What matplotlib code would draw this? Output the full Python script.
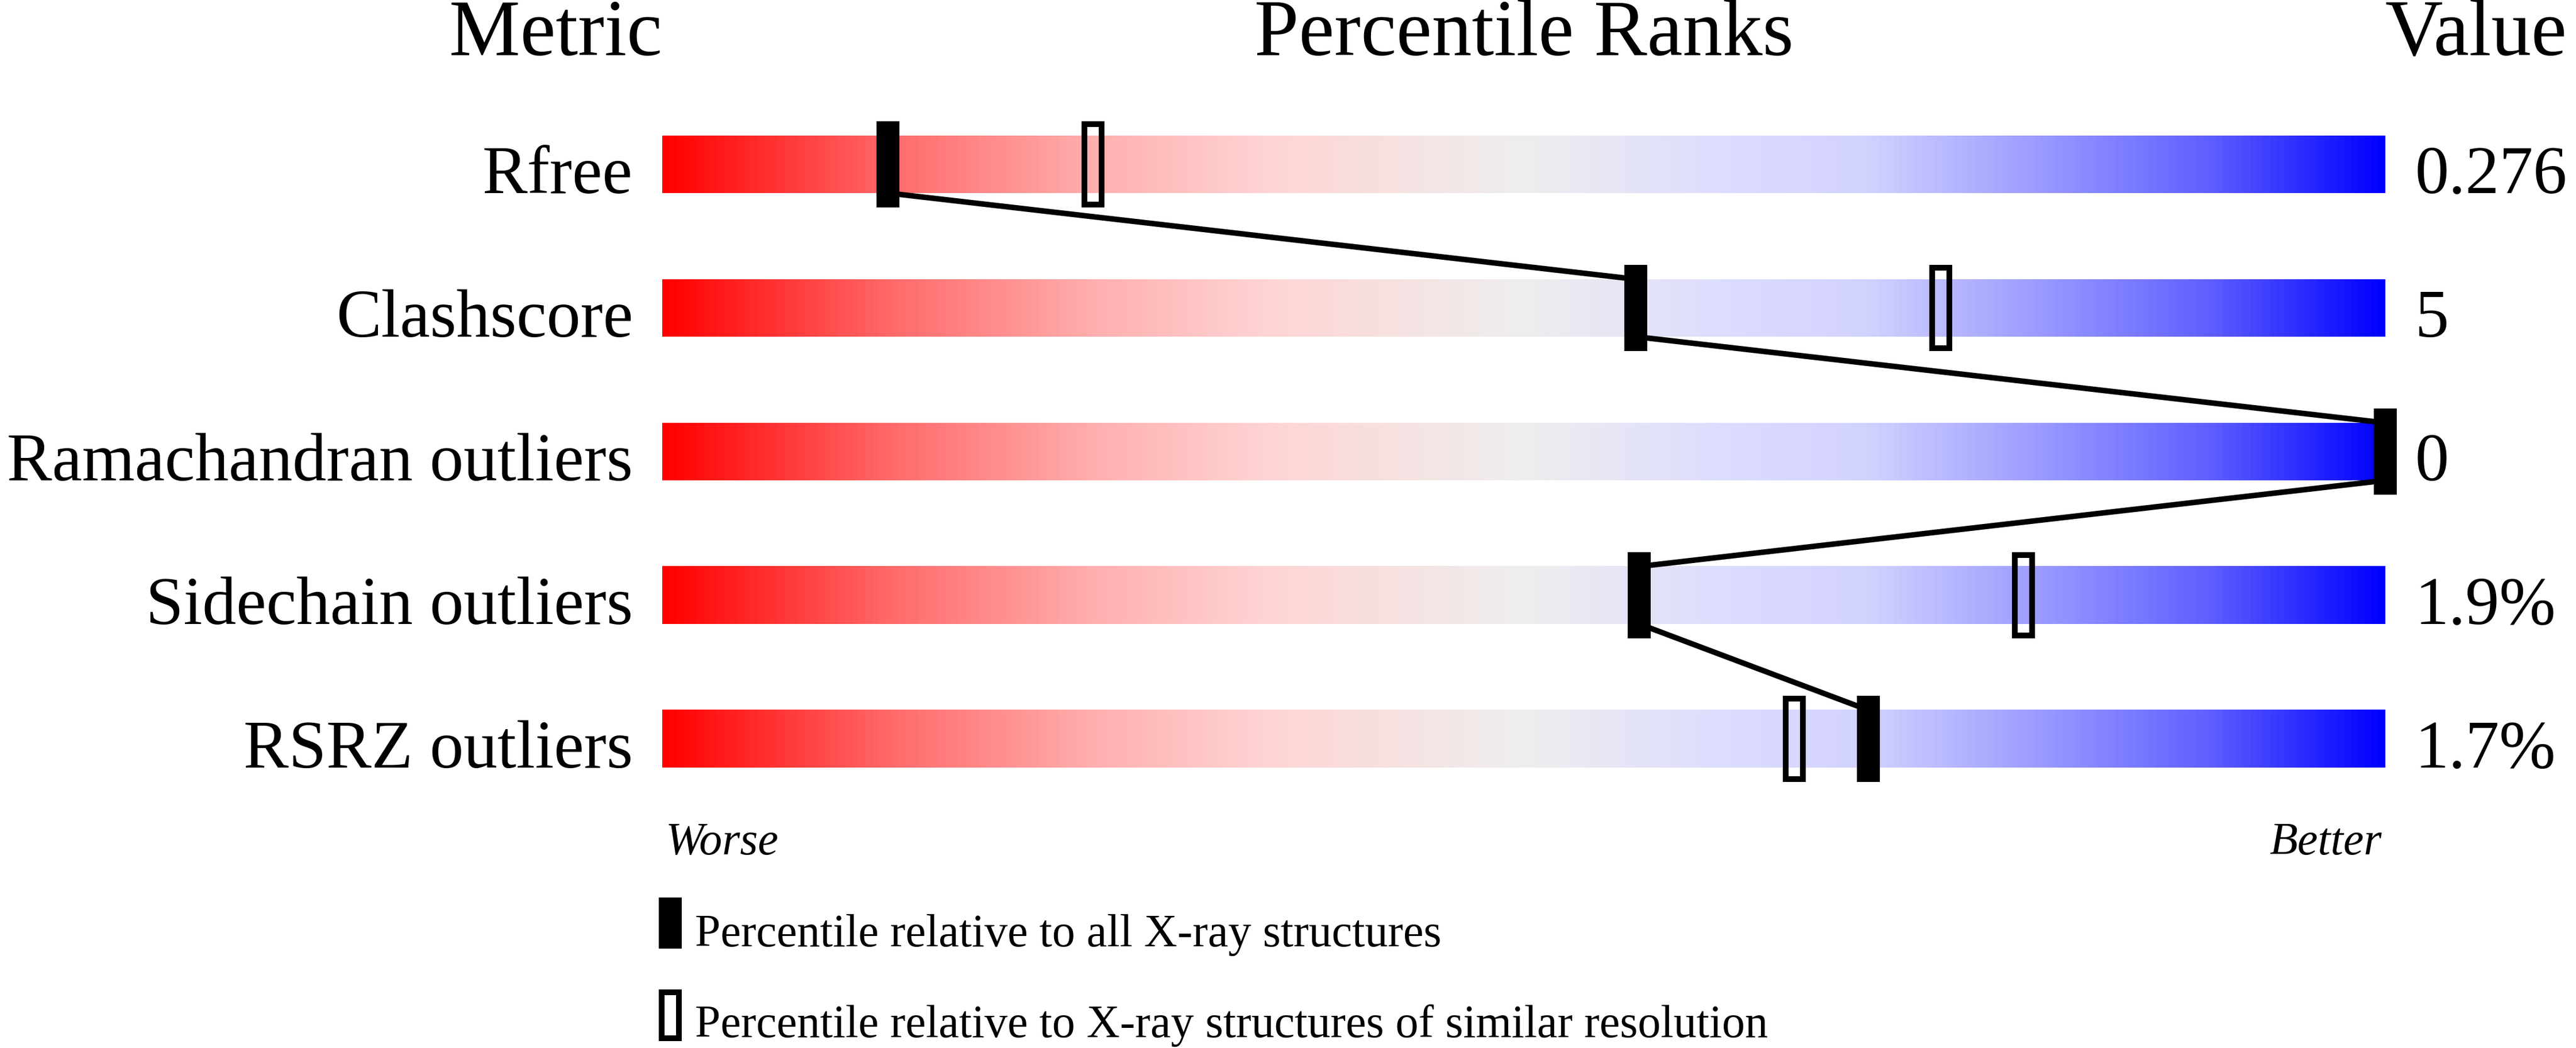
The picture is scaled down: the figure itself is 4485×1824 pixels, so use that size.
import numpy as np
import matplotlib
matplotlib.use("Agg")
import matplotlib.pyplot as plt
from matplotlib.colors import LinearSegmentedColormap
from matplotlib.patches import Rectangle

metrics = ["Rfree", "Clashscore", "Ramachandran outliers", "Sidechain outliers", "RSRZ outliers"]
values = ["0.276", "5", "0", "1.9%", "1.7%"]
pct_all = [13.1, 56.5, 100.0, 56.7, 70.0]       # relative to all X-ray structures
pct_similar = [25.0, 74.2, 100.0, 79.0, 65.7]   # relative to similar resolution

legend_all = "Percentile relative to all X-ray structures"
legend_similar = "Percentile relative to X-ray structures of similar resolution"


def main():
    plt.rcParams["font.family"] = ["Liberation Serif", "DejaVu Serif"]

    # red -> pale -> blue, as in the wwPDB slider
    stops = [
        (0.00, (255, 0, 0)),
        (0.13, (255, 105, 105)),
        (0.25, (255, 175, 175)),
        (0.35, (255, 212, 212)),
        (0.50, (238, 238, 238)),
        (0.62, (220, 220, 255)),
        (0.70, (210, 210, 255)),
        (0.80, (155, 155, 255)),
        (0.90, (95, 95, 255)),
        (1.00, (0, 0, 255)),
    ]
    cmap = LinearSegmentedColormap.from_list(
        "slider", [(s, tuple(c / 255 for c in rgb)) for s, rgb in stops])

    fig = plt.figure(figsize=(14.95, 6.08), dpi=300)
    ax = fig.add_axes([0, 0, 1, 1])
    ax.axis("off")

    n = len(metrics)
    half_bar = 0.2
    grad = np.linspace(0, 1, 800).reshape(1, -1)

    for i in range(n):
        ax.imshow(grad, cmap=cmap, extent=(0, 100, i + half_bar, i - half_bar),
                  aspect="auto", interpolation="bilinear", zorder=1)

    # connecting line between the "all structures" markers
    for i in range(n - 1):
        ax.plot([pct_all[i], pct_all[i + 1]], [i + half_bar, i + 1 - half_bar],
                color="black", lw=2.3, solid_capstyle="butt", zorder=2)

    for i in range(n):
        ax.add_patch(Rectangle((pct_similar[i] - 0.5, i - 0.28), 1.0, 0.56,
                               fill=False, edgecolor="black", lw=2.4, zorder=3))
        ax.add_patch(Rectangle((pct_all[i] - 0.667, i - 0.3), 1.333, 0.6,
                               facecolor="black", lw=0, zorder=4))
        ax.text(-1.7, i + half_bar, metrics[i], ha="right", va="baseline", fontsize=28.3)
        ax.text(101.73, i + half_bar, values[i], ha="left", va="baseline", fontsize=28.3)

    # headers
    ax.text(0, -0.76, "Metric", ha="right", va="baseline", fontsize=33.4)
    ax.text(50, -0.76, "Percentile Ranks", ha="center", va="baseline", fontsize=33.4)
    ax.text(100, -0.76, "Value", ha="left", va="baseline", fontsize=33.4)

    ax.text(0.2, 4.804, "Worse", ha="left", va="baseline", fontsize=19.2, style="italic")
    ax.text(99.8, 4.804, "Better", ha="right", va="baseline", fontsize=19.2, style="italic")

    # legend
    ax.add_patch(Rectangle((-0.2, 5.104), 1.333, 0.356, facecolor="black", lw=0))
    ax.text(1.9, 5.444, legend_all, ha="left", va="baseline", fontsize=19.2)
    ax.add_patch(Rectangle((-0.033, 5.764), 1.0, 0.32, fill=False,
                           edgecolor="black", lw=2.4))
    ax.text(1.9, 6.076, legend_similar, ha="left", va="baseline", fontsize=19.2)

    ax.set_xlim(-38.433, 111.067)
    ax.set_ylim(6.152, -1.144)

    fig.savefig("out.png", dpi=300, facecolor="white")
    plt.close(fig)


if __name__ == "__main__":
    main()
